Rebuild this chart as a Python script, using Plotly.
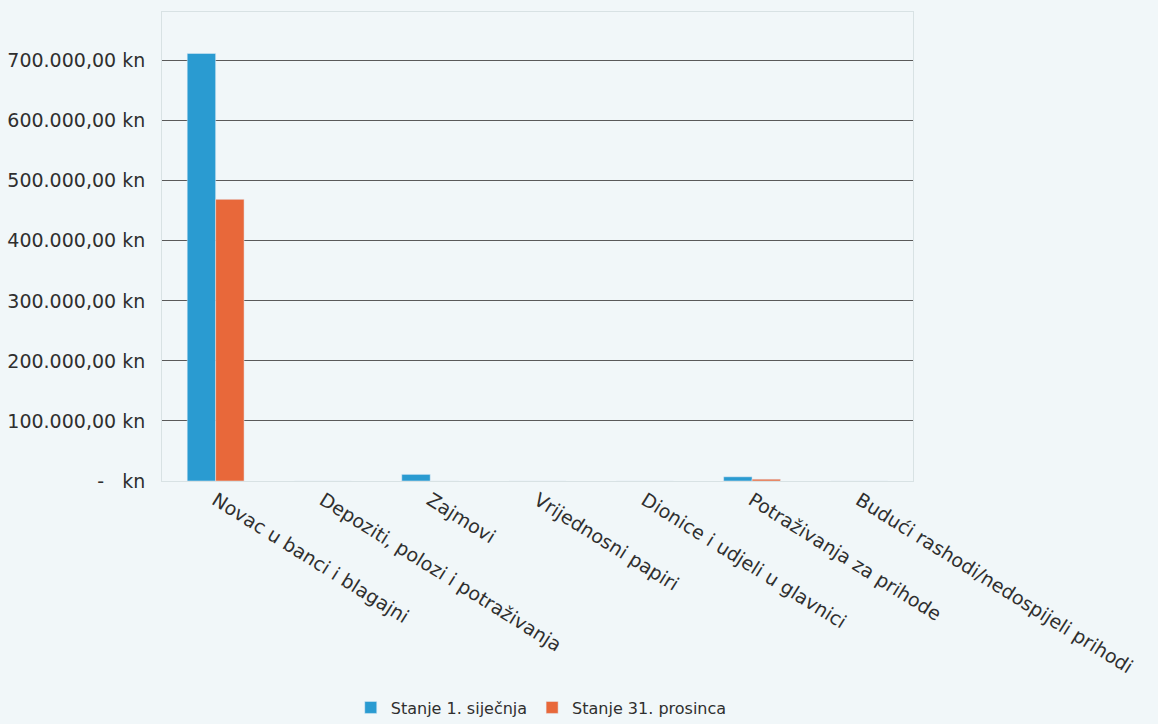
import plotly.graph_objects as go

categories = [
    "Novac u banci i blagajni",
    "Depoziti, polozi i potraživanja",
    "Zajmovi",
    "Vrijednosni papiri",
    "Dionice i udjeli u glavnici",
    "Potraživanja za prihode",
    "Budući rashodi/nedospijeli prihodi",
]
stanje_1_sijecnja = [712000, 0, 11000, 0, 0, 7000, 0]
stanje_31_prosinca = [469000, 0, 0, 0, 0, 3000, 0]

tick_vals = [0, 100000, 200000, 300000, 400000, 500000, 600000, 700000]
tick_text = ["-   kn", "100.000,00 kn", "200.000,00 kn", "300.000,00 kn",
             "400.000,00 kn", "500.000,00 kn", "600.000,00 kn", "700.000,00 kn"]

fig = go.Figure()
fig.add_trace(go.Bar(name="Stanje 1. siječnja", x=categories, y=stanje_1_sijecnja,
                     marker_color="#2a9bd1"))
fig.add_trace(go.Bar(name="Stanje 31. prosinca", x=categories, y=stanje_31_prosinca,
                     marker_color="#e8683a"))

fig.update_layout(
    width=1158, height=724,
    margin=dict(l=162, r=245, t=12, b=243, autoexpand=False),
    paper_bgcolor="#f1f7f9",
    plot_bgcolor="#f1f7f9",
    barmode="group",
    bargap=0.47,
    bargroupgap=0,
    font=dict(family="DejaVu Sans", size=19, color="#2f2f2f"),
    legend=dict(orientation="h", x=0.505, xanchor="center", y=-0.483, yanchor="middle",
                font=dict(size=16, color="#2f2f2f")),
    xaxis=dict(tickangle=32, showline=True, linecolor="#d8e2e4", mirror=True,
               showgrid=False, ticks="", tickfont=dict(size=19)),
    yaxis=dict(range=[0, 781000], tickvals=tick_vals, ticktext=tick_text,
               showgrid=True, gridcolor="#5a5a5a", gridwidth=1,
               zeroline=True, zerolinecolor="#5a5a5a", zerolinewidth=1,
               showline=True, linecolor="#d8e2e4", mirror=True,
               ticks="outside", ticklen=12, tickcolor="rgba(0,0,0,0)",
               tickfont=dict(size=19)),
)

fig.write_html("out.html", config={"displayModeBar": False},
               post_script="document.body.style.margin='0px';")
